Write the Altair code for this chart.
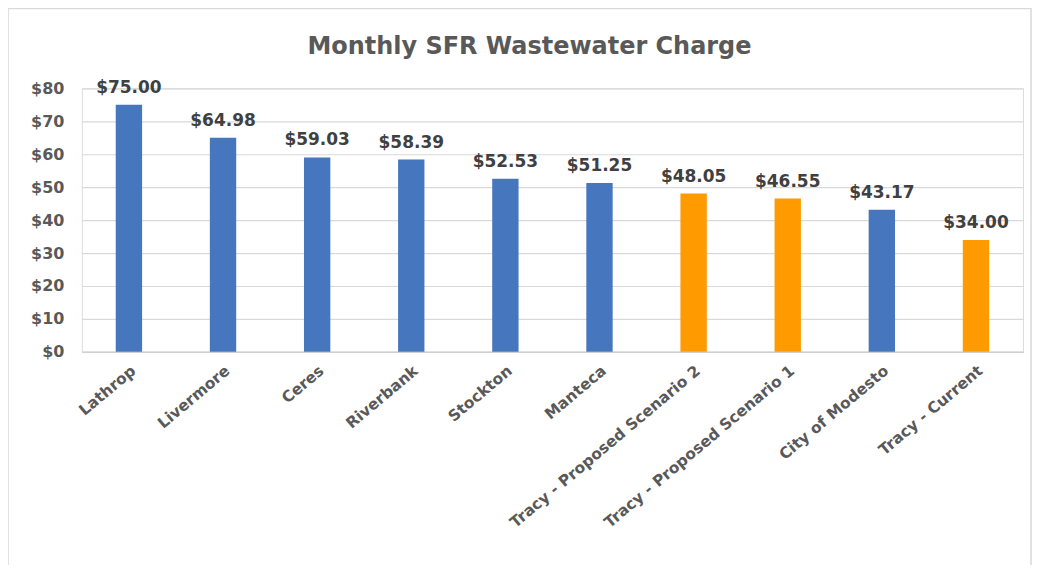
import altair as alt
import pandas as pd

cities = ["Lathrop", "Livermore", "Ceres", "Riverbank", "Stockton", "Manteca",
          "Tracy - Proposed Scenario 2", "Tracy - Proposed Scenario 1",
          "City of Modesto", "Tracy - Current"]
charges = [75.00, 64.98, 59.03, 58.39, 52.53, 51.25, 48.05, 46.55, 43.17, 34.00]
groups = ["Other", "Other", "Other", "Other", "Other", "Other",
          "Tracy", "Tracy", "Other", "Tracy"]
y_ticks = [0, 10, 20, 30, 40, 50, 60, 70, 80]

df = pd.DataFrame({"city": cities, "charge": charges, "group": groups})
df["label"] = df["charge"].map(lambda v: f"${v:,.2f}")

FONT = "DejaVu Sans"
GRAY = "#595959"

x = alt.X("city:N", sort=cities, title=None,
          scale=alt.Scale(paddingInner=0.72, paddingOuter=0.36),
          axis=alt.Axis(labelAngle=-40, labelFont=FONT, labelFontSize=15.5,
                        labelFontWeight="bold", labelColor=GRAY, labelPadding=11,
                        ticks=False, domainColor="#D0D0D0", domainWidth=1.5,
                        labelLimit=400, labelOverlap=False))
y = alt.Y("charge:Q", title=None,
          scale=alt.Scale(domain=[0, 80]),
          axis=alt.Axis(values=y_ticks, format="$,.0f", labelOverlap=False,
                        labelFont=FONT, labelFontSize=16, labelFontWeight="bold",
                        labelColor=GRAY, labelPadding=18, ticks=False, domain=False,
                        gridColor="#D9D9D9", gridWidth=1.2))

base = alt.Chart(df).encode(x=x, y=y)

bars = base.mark_bar().encode(
    color=alt.Color("group:N", scale=alt.Scale(domain=["Other", "Tracy"],
                                               range=["#4677BE", "#FF9A00"]),
                    legend=None),
)

text = base.mark_text(dy=-17, font=FONT, fontSize=17, fontWeight="bold",
                      color="#404040").encode(text="label:N")

border = alt.Chart(pd.DataFrame({"k": [0]})).mark_rect(
    fill=None, stroke="#D9D9D9", strokeWidth=1.5).encode(
    x=alt.value(-74), x2=alt.value(951), y=alt.value(-80), y2=alt.value(520))

chart = alt.layer(border, bars, text).properties(
    width=943, height=264,
    title=alt.TitleParams("Monthly SFR Wastewater Charge", font=FONT, fontSize=24,
                          fontWeight="bold", color=GRAY, anchor="middle",
                          frame="group", offset=-51, dx=-23),
    padding={"left": 74, "top": 80, "right": 9, "bottom": 213},
    autosize=alt.AutoSizeParams(type="none"),
).configure_view(stroke=None).configure(background="white")

chart.save("out.html", embed_options={"renderer": "svg", "actions": False})
